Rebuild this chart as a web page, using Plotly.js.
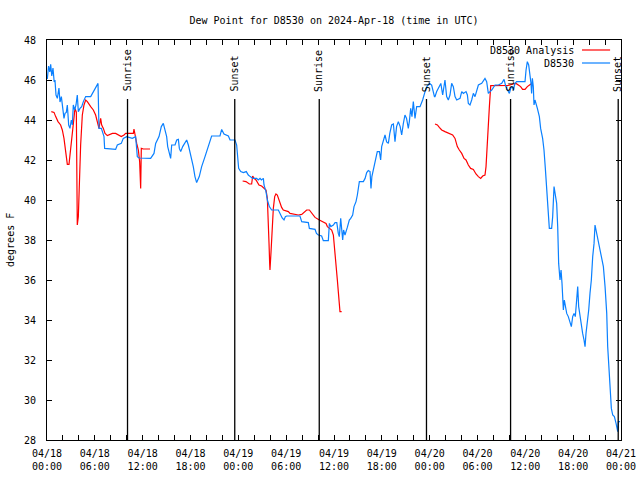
<!DOCTYPE html>
<html>
<head>
<meta charset="utf-8">
<script src="https://cdn.plot.ly/plotly-3.0.1.min.js"></script>
<style>html,body{margin:0;padding:0;background:#fff;}</style>
</head>
<body>
<div id="chart" style="width:640px;height:480px;"></div>
<script>
// ---- data (hours since 2024-04-18 00:00 UTC) ----
var seriesNames = ["D8530 Analysis", "D8530"];
var chartTitle = "Dew Point for D8530 on 2024-Apr-18 (time in UTC)";
var yTitle = "degrees F";

var obsHours = [0.04,0.2,0.35,0.46,0.6,0.75,0.9,1.0,1.13,1.3,1.5,1.63,1.8,2.0,2.13,2.26,2.42,2.55,2.72,2.88,3.05,3.18,3.3,3.47,3.64,3.8,3.93,4.14,4.35,4.56,4.85,5.48,5.81,6.1,6.4,6.52,6.82,7.15,7.23,8.61,8.82,9.32,9.57,9.99,10.7,11.12,11.33,11.54,13.0,13.42,13.63,14.05,14.34,14.59,15.01,15.14,15.35,15.51,15.64,16.06,16.27,16.48,16.6,16.77,17.02,17.31,17.52,17.73,17.94,18.15,18.35,18.56,18.77,19.1,19.4,19.82,20.24,20.65,21.7,21.91,22.2,22.75,22.96,23.58,23.79,23.87,24.04,24.3,24.63,25.0,25.25,25.5,25.8,26.3,26.5,26.72,26.9,27.14,27.22,27.47,27.64,27.89,28.18,29.02,29.23,29.31,29.5,29.73,29.9,30.06,31.73,31.95,32.78,32.91,33.62,33.8,34.04,34.45,34.66,35.29,35.42,35.6,35.92,36.13,36.35,36.54,36.67,36.84,36.95,37.09,37.2,37.38,37.67,37.92,38.1,38.34,38.51,38.76,38.93,39.18,39.68,39.9,40.1,40.3,40.52,40.64,40.75,40.93,41.1,41.27,41.43,41.7,41.85,41.98,42.2,42.4,42.6,42.82,43.0,43.23,43.45,43.55,43.65,43.85,44.07,44.3,44.49,44.7,44.9,45.1,45.32,45.45,45.62,45.78,45.95,46.16,46.37,46.79,47.12,47.42,47.65,47.96,48.25,48.6,48.67,48.88,49.21,49.4,49.63,49.8,49.92,50.13,50.34,50.55,50.76,50.97,51.18,51.39,51.81,52.02,52.23,52.56,52.73,52.85,53.06,53.27,53.48,53.69,53.9,54.11,54.53,54.94,55.15,55.36,55.57,55.78,56.2,56.62,57.04,57.33,57.55,57.75,57.92,58.0,58.16,58.33,58.5,58.7,58.91,59.96,60.09,60.25,60.42,60.59,60.71,60.79,60.88,61.0,61.09,61.21,61.34,61.51,61.76,61.92,62.17,62.34,62.51,62.67,62.8,63.01,63.3,63.43,63.6,63.72,63.93,64.06,64.18,64.35,64.48,64.6,64.69,64.77,64.89,65.02,65.19,65.39,65.6,65.77,65.94,66.11,66.27,66.44,66.57,66.69,66.86,67.03,67.19,67.36,67.49,67.61,67.78,67.95,68.11,68.28,68.45,68.62,68.74,68.87,69.04,69.2,69.37,69.58,69.79,70.0,70.21,70.33,70.46,70.63,70.79,70.96,71.17,71.38,71.46,71.59,71.67,71.88];
var obsDewpt = [46.05,46.7,46.4,46.78,46.2,46.6,45.9,46.0,45.25,45.08,45.6,44.9,45.17,44.5,44.08,44.33,44.38,44.75,43.75,43.58,44.0,43.75,44.75,44.5,44.75,45.25,44.42,44.58,44.67,44.92,45.17,45.17,45.42,45.58,45.83,43.58,43.58,43.17,42.58,42.53,42.75,42.83,43.08,43.17,43.08,43.17,42.17,42.1,42.08,42.33,42.83,43.17,43.67,43.83,43.17,42.67,42.33,42.08,42.75,42.75,43.0,43.03,42.58,42.42,42.67,42.83,43.0,42.75,42.42,42.08,41.67,41.17,40.87,41.17,41.67,42.17,42.75,43.2,43.2,43.53,43.3,43.2,43.0,43.0,42.75,42.17,41.58,41.42,41.37,41.42,41.25,41.17,41.08,41.08,41.0,41.08,41.0,41.08,40.75,40.42,40.0,39.67,39.5,39.5,39.3,39.25,39.1,39.0,39.17,39.2,39.2,38.92,38.87,38.58,38.53,38.33,38.25,38.2,37.97,37.97,38.83,38.67,38.75,38.87,38.87,38.33,38.17,39.08,38.33,38.0,38.5,38.25,38.63,39.0,39.08,39.25,39.67,39.92,40.25,40.92,40.92,41.08,41.37,41.47,41.42,40.58,41.17,41.5,41.67,42.08,42.42,42.42,42.0,42.67,43.0,43.25,42.9,42.83,43.33,43.75,43.8,43.5,42.92,43.67,43.92,43.67,43.25,43.83,44.25,44.08,43.58,43.92,44.58,44.17,44.92,44.08,44.67,44.67,45.0,45.42,45.67,45.83,45.75,45.17,45.17,45.42,45.67,45.83,45.25,45.83,46.0,45.17,45.0,45.25,45.83,45.67,45.17,45.0,45.08,45.42,45.33,45.42,45.25,44.83,44.75,45.0,45.33,45.17,45.42,45.75,45.83,46.08,45.92,45.33,45.42,45.5,45.75,45.75,45.83,46.03,45.67,45.5,45.33,45.33,45.58,45.67,45.5,45.83,45.92,45.92,46.5,46.92,46.75,46.25,45.83,45.33,46.08,45.67,44.75,45.0,44.75,44.58,44.17,43.58,43.08,42.5,41.58,40.42,39.67,38.58,38.58,39.17,40.67,40.33,39.83,38.67,36.83,36.0,36.5,35.83,35.0,34.5,35.0,34.67,34.33,34.17,33.92,33.67,34.17,34.33,34.17,35.17,35.67,34.67,34.17,33.67,33.33,33.0,32.67,33.33,33.83,34.5,35.33,36.0,37.17,37.83,38.75,38.5,38.17,37.83,37.5,37.17,36.67,35.67,34.33,32.67,31.67,30.5,29.58,29.25,29.17,28.83,28.58,28.42,28.92,28.92];

var anaHours = [0.54,0.88,1.09,1.38,1.71,1.92,2.13,2.34,2.55,2.76,2.88,3.05,3.3,3.51,3.68,3.8,3.93,4.06,4.22,4.43,4.64,4.85,5.06,5.48,5.81,6.1,6.31,6.52,6.73,6.86,7.07,7.28,7.57,8.2,8.61,9.03,9.32,9.66,9.87,10.29,10.83,10.91,11.0,11.25,11.46,11.62,11.75,11.83,12.08,12.92,
  18.0,
  24.54,24.96,25.38,25.67,25.8,25.97,26.22,26.38,26.59,26.92,27.22,27.47,27.64,27.76,27.85,27.93,27.97,28.1,28.22,28.39,28.56,28.72,28.89,29.14,29.43,29.64,30.27,30.48,31.1,31.52,31.95,32.16,32.57,32.91,33.2,33.62,34.16,34.66,35.0,35.17,35.42,35.71,35.92,36.09,36.25,36.42,36.54,36.67,36.75,36.96,
  42.0,
  48.67,48.97,49.21,49.51,49.92,50.55,50.88,51.18,51.47,51.72,52.02,52.31,52.56,52.85,53.14,53.48,53.81,54.11,54.4,54.65,54.94,55.07,55.24,55.36,55.49,55.66,56.2,56.83,57.33,57.87,58.49,58.83,59.12,59.41,59.66,59.96,60.25,60.59,60.79];
var anaDewpt = [44.42,44.38,44.17,43.92,43.75,43.5,43.08,42.42,41.78,41.78,42.25,43.08,43.75,44.58,44.4,38.75,39.17,40.92,42.75,44.25,44.75,45.0,44.92,44.67,44.5,44.25,43.83,43.58,44.08,43.75,43.58,43.33,43.22,43.33,43.33,43.25,43.17,43.25,43.33,43.33,43.33,43.55,43.3,42.83,42.5,41.92,40.58,42.58,42.55,42.55,
  null,
  40.95,40.92,40.8,40.8,41.2,41.08,41.0,40.87,40.75,40.7,40.58,40.5,40.08,39.17,37.83,36.83,36.5,37.4,38.67,39.58,40.17,40.3,40.25,39.92,39.63,39.5,39.42,39.33,39.3,39.25,39.28,39.37,39.5,39.5,39.33,39.13,39.0,38.92,38.83,38.67,38.58,38.5,38.25,37.33,36.83,36.0,35.42,34.83,34.42,34.42,
  null,
  43.8,43.75,43.63,43.5,43.42,43.33,43.25,43.08,42.67,42.5,42.33,42.08,42.0,41.75,41.58,41.53,41.3,41.17,41.08,41.2,41.25,41.67,43.17,44.17,44.67,45.72,45.72,45.72,45.72,45.73,45.8,45.83,45.75,45.67,45.53,45.53,45.67,45.75,45.83];

var sunHours = [10.1, 23.55, 34.15, 47.6, 58.15, 71.65];
var sunLabels = ["Sunrise", "Sunset", "Sunrise", "Sunset", "Sunrise", "Sunset"];

var xTickVals = [0,6,12,18,24,30,36,42,48,54,60,66,72];
var xTickText = ["04/18<br>00:00","04/18<br>06:00","04/18<br>12:00","04/18<br>18:00",
                 "04/19<br>00:00","04/19<br>06:00","04/19<br>12:00","04/19<br>18:00",
                 "04/20<br>00:00","04/20<br>06:00","04/20<br>12:00","04/20<br>18:00",
                 "04/21<br>00:00"];

// ---- styling ----
var FONT = "DejaVu Sans Mono, Liberation Mono, monospace";
var RED = "#ff0000", BLUE = "#0a80ff";

var traces = [
  {x: anaHours, y: anaDewpt, name: seriesNames[0], type: "scatter", mode: "lines",
   line: {color: RED, width: 1.2}, connectgaps: false, hoverinfo: "skip"},
  {x: obsHours, y: obsDewpt, name: seriesNames[1], type: "scatter", mode: "lines",
   line: {color: BLUE, width: 1.2}, hoverinfo: "skip"}
];

var shapes = [], annotations = [];
sunHours.forEach(function (h, i) {
  shapes.push({type: "line", xref: "x", yref: "paper", x0: h, x1: h, y0: 0, y1: 0.8525,
               line: {color: "black", width: 1.3}, layer: "above"});
  annotations.push({xref: "x", yref: "paper", x: h, y: 0.868, text: sunLabels[i],
                    textangle: -90, xanchor: "center", yanchor: "bottom", showarrow: false,
                    borderpad: 0, font: {family: FONT, size: 10, color: "black"}});
});

// custom gnuplot-style legend (sample to the right of label)
var legendY = [0.975, 0.9425];
var legendColors = [RED, BLUE];
seriesNames.forEach(function (nm, i) {
  annotations.push({xref: "paper", yref: "paper", x: 0.9199, y: legendY[i], text: nm,
                    xanchor: "right", yanchor: "middle", showarrow: false, borderpad: 0,
                    font: {family: FONT, size: 10, color: "black"}});
  shapes.push({type: "line", xref: "paper", yref: "paper", x0: 0.932, x1: 0.981,
               y0: legendY[i], y1: legendY[i], line: {color: legendColors[i], width: 1.2}});
});

annotations.push({xref: "paper", yref: "paper", x: -0.0645, y: 0.5, text: yTitle,
                  textangle: -90, xanchor: "center", yanchor: "middle", showarrow: false,
                  font: {family: FONT, size: 10, color: "black"}});

var layout = {
  width: 640, height: 480,
  margin: {l: 47, r: 19, t: 40, b: 40, pad: 0},
  paper_bgcolor: "white", plot_bgcolor: "white",
  showlegend: false,
  title: {text: chartTitle, x: 0.5, xref: "paper", y: 1 - 20/480, yref: "container",
          xanchor: "center", yanchor: "middle",
          font: {family: FONT, size: 10, color: "black"}},
  xaxis: {range: [0, 72], tickmode: "array", tickvals: xTickVals, ticktext: xTickText,
          ticks: "inside", ticklen: 5, tickwidth: 1, tickcolor: "black",
          showline: true, linecolor: "black", linewidth: 1, mirror: "allticks",
          showgrid: false, zeroline: false, fixedrange: true,
          minor: {tickmode: "linear", tick0: 0, dtick: 2, ticks: "inside", ticklen: 5,
                  tickwidth: 1, tickcolor: "black", showgrid: false},
          tickfont: {family: FONT, size: 10, color: "black"}, ticklabelstandoff: 4},
  yaxis: {range: [28, 48], tickmode: "linear", tick0: 28, dtick: 2,
          ticks: "inside", ticklen: 5, tickwidth: 1, tickcolor: "black",
          showline: true, linecolor: "black", linewidth: 1, mirror: "allticks",
          showgrid: false, zeroline: false, fixedrange: true,
          tickfont: {family: FONT, size: 10, color: "black"}, ticklabelstandoff: 8},
  shapes: shapes,
  annotations: annotations
};

Plotly.newPlot("chart", traces, layout, {staticPlot: true, displayModeBar: false});
</script>
</body>
</html>
